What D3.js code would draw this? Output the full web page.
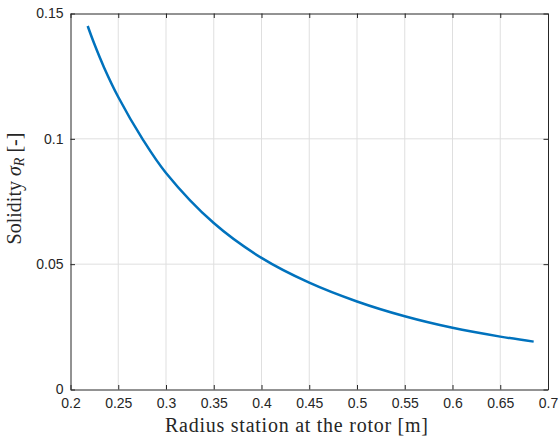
<!DOCTYPE html>
<html><head><meta charset="utf-8">
<script src="https://cdn.jsdelivr.net/npm/d3@7"></script>
<style>body{margin:0;background:#fff}svg{display:block}</style>
</head><body>
<svg id="c" width="560" height="441"></svg>
<script>
const radius = [0.218, 0.225, 0.235, 0.25, 0.275, 0.3, 0.35, 0.4, 0.45, 0.5, 0.55, 0.6, 0.65, 0.685];
const solidity = [0.145, 0.1378, 0.1286, 0.1167, 0.1002, 0.0864, 0.0664, 0.0525, 0.0426, 0.0351, 0.0292, 0.0246, 0.0211, 0.0191];
const xTicks = [0.2, 0.25, 0.3, 0.35, 0.4, 0.45, 0.5, 0.55, 0.6, 0.65, 0.7];
const xTickLabels = ["0.2","0.25","0.3","0.35","0.4","0.45","0.5","0.55","0.6","0.65","0.7"];
const yTicks = [0, 0.05, 0.1, 0.15];
const yTickLabels = ["0","0.05","0.1","0.15"];

const L = 70.5, R = 548, T = 13.5, B = 389.5;
const svg = d3.select("#c");
const x = d3.scaleLinear().domain([0.2, 0.7]).range([L, R]);
const y = d3.scaleLinear().domain([0, 0.15]).range([B, T]);
const axisCol = "#262626", gridCol = "#dfdfdf", tl = 4.5;

// grid
const g = svg.append("g");
g.selectAll(".gx").data(xTicks.slice(1, -1)).join("line")
  .attr("x1", d => x(d)).attr("x2", d => x(d)).attr("y1", T).attr("y2", B)
  .attr("stroke", gridCol).attr("stroke-width", 1);
g.selectAll(".gy").data(yTicks.slice(1, -1)).join("line")
  .attr("x1", L).attr("x2", R).attr("y1", d => y(d)).attr("y2", d => y(d))
  .attr("stroke", gridCol).attr("stroke-width", 1);

// axes via d3 axis
const fmtX = (d, i) => xTickLabels[i];
const fmtY = (d, i) => yTickLabels[i];
const font = "'Liberation Sans', Arial, Helvetica, sans-serif";
const ax = svg.append("g").attr("transform", `translate(0,${B})`)
  .call(d3.axisBottom(x).tickValues(xTicks).tickFormat(fmtX).tickSizeInner(-tl).tickSizeOuter(0).tickPadding(9));
const ay = svg.append("g").attr("transform", `translate(${L},0)`)
  .call(d3.axisLeft(y).tickValues(yTicks).tickFormat(fmtY).tickSizeInner(-tl).tickSizeOuter(0).tickPadding(7));
const axt = svg.append("g").attr("transform", `translate(0,${T})`)
  .call(d3.axisTop(x).tickValues(xTicks).tickFormat("").tickSizeInner(-tl).tickSizeOuter(0));
const ayr = svg.append("g").attr("transform", `translate(${R},0)`)
  .call(d3.axisRight(y).tickValues(yTicks).tickFormat("").tickSizeInner(-tl).tickSizeOuter(0));
[ax, ay, axt, ayr].forEach(a => {
  a.select(".domain").attr("stroke", axisCol).attr("stroke-width", 1);
  a.selectAll(".tick line").attr("stroke", axisCol).attr("stroke-width", 1);
  a.selectAll(".tick text").attr("fill", "#262626").style("font-family", font).style("font-size", "14px");
});

// line
const line = d3.line().x((d, i) => x(radius[i])).y((d, i) => y(solidity[i])).curve(d3.curveCatmullRom.alpha(0.5));
svg.append("path").datum(solidity).attr("d", line)
  .attr("fill", "none").attr("stroke", "#0072BD").attr("stroke-width", 2.5);

// labels
const serif = "'Liberation Serif', 'Times New Roman', serif";
svg.append("text").attr("x", 296.5).attr("y", 432).attr("text-anchor", "middle")
  .attr("textLength", 263).attr("lengthAdjust", "spacing")
  .style("font-family", serif).style("font-size", "20px").attr("fill", "#262626")
  .text("Radius station at the rotor [m]");
const yl = svg.append("text").attr("transform", "translate(21,188.5) rotate(-90)")
  .attr("text-anchor", "middle").style("font-family", serif).style("font-size", "20px").attr("fill", "#262626");
yl.append("tspan").text("Solidity ");
yl.append("tspan").style("font-style", "italic").text("σ");
yl.append("tspan").style("font-style", "italic").style("font-size", "14px").attr("dy", 3).text("R");
yl.append("tspan").attr("dy", -3).text(" [-]");
</script>
</body></html>
